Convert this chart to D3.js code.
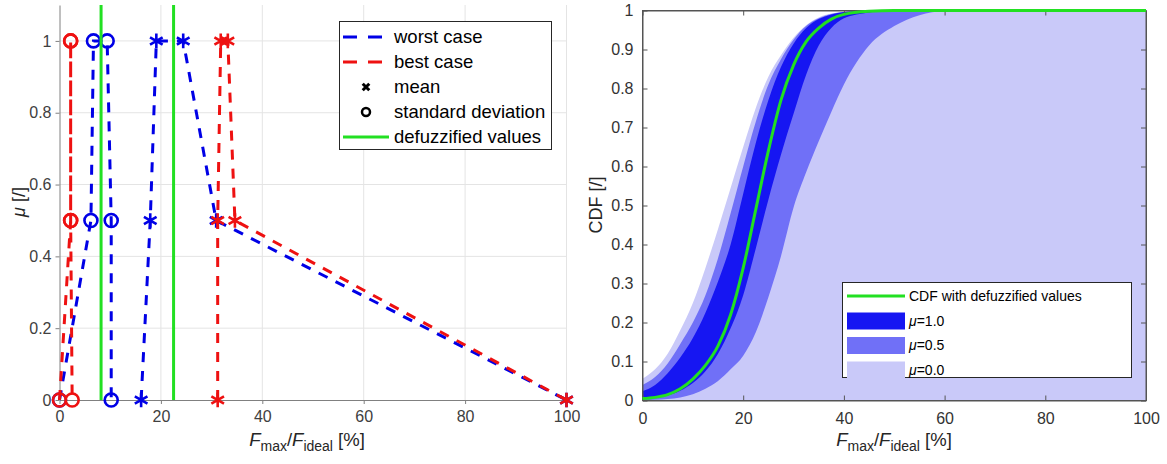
<!DOCTYPE html>
<html>
<head>
<meta charset="utf-8">
<script src="https://cdn.jsdelivr.net/npm/d3@7"></script>
<style>
  body { margin: 0; background: #fff; }
  svg { font-family: "Liberation Sans", Arial, sans-serif; }
</style>
</head>
<body>
<svg width="1167" height="464"></svg>
<script>
// ---- left chart: fuzzy numbers (membership levels and x positions)
const levels = [0, 0.5, 1, 1, 0.5, 0];
const worstMean = [16.1, 17.9, 19.1, 24.4, 30.9, 100];
const worstStd = [0, 6.2, 6.7, 9.4, 10.2, 10.2];
const bestMean = [31.2, 31.2, 31.8, 33.2, 34.6, 100];
const bestStd = [0, 2.2, 2.2, 2.2, 2.2, 2.5];
const defuzzified = [8.2, 22.5];
const leftXTicks = [0, 20, 40, 60, 80, 100];
const leftYTicks = [0, 0.2, 0.4, 0.6, 0.8, 1];

// ---- right chart: CDF envelopes
const cdfX   = [0, 2.5, 5, 7.5, 10, 12.5, 15, 17.5, 20, 22.5, 25, 27.5, 30, 32.5, 35, 37.5, 40, 45, 50, 55, 60, 70, 100];
const upper0 = [0.056, 0.08, 0.12, 0.18, 0.25, 0.34, 0.44, 0.545, 0.65, 0.75, 0.83, 0.885, 0.93, 0.962, 0.982, 0.992, 0.997, 1, 1, 1, 1, 1, 1];
const upper5 = [0.04, 0.06, 0.095, 0.145, 0.2, 0.27, 0.365, 0.48, 0.6, 0.715, 0.81, 0.875, 0.925, 0.96, 0.98, 0.991, 0.996, 1, 1, 1, 1, 1, 1];
const upper1 = [0.024, 0.04, 0.07, 0.11, 0.16, 0.225, 0.305, 0.4, 0.53, 0.66, 0.77, 0.855, 0.915, 0.955, 0.978, 0.99, 0.996, 1, 1, 1, 1, 1, 1];
const defCdf = [0.005, 0.008, 0.015, 0.03, 0.055, 0.09, 0.14, 0.22, 0.34, 0.49, 0.64, 0.77, 0.86, 0.92, 0.955, 0.978, 0.99, 0.998, 1, 1, 1, 1, 1];
const lower1 = [0.004, 0.007, 0.013, 0.025, 0.045, 0.075, 0.12, 0.185, 0.27, 0.39, 0.515, 0.63, 0.735, 0.835, 0.91, 0.955, 0.98, 0.995, 1, 1, 1, 1, 1];
const lower5 = [0.001, 0.002, 0.004, 0.008, 0.016, 0.03, 0.05, 0.08, 0.115, 0.175, 0.265, 0.37, 0.495, 0.585, 0.665, 0.74, 0.81, 0.91, 0.96, 0.988, 0.998, 1, 1];
const lower0 = cdfX.map(() => 0);
const rightXTicks = [0, 20, 40, 60, 80, 100];
const rightYTicks = d3.range(0, 11).map(i => i / 10);

const blue = "#0000e6", red = "#ee1111", green = "#22e022";
const c10 = "#1616f2", c05 = "#7070f7", c00 = "#c9c9f9";

const svg = d3.select("svg");

// ================= LEFT =================
const xL = d3.scaleLinear([0, 100], [59.5, 566.5]);
const yL = d3.scaleLinear([0, 1.1], [400, 5]);
const gL = svg.append("g");

// grid
gL.append("g").selectAll("line").data(leftXTicks.slice(1)).join("line")
  .attr("x1", d => xL(d)).attr("x2", d => xL(d)).attr("y1", yL(1.1)).attr("y2", yL(0))
  .attr("stroke", "#e4e4e4");
gL.append("g").selectAll("line").data(leftYTicks.slice(1)).join("line")
  .attr("x1", xL(0)).attr("x2", xL(100)).attr("y1", d => yL(d)).attr("y2", d => yL(d))
  .attr("stroke", "#e4e4e4");

const axL = gL.append("g").attr("transform", `translate(${xL(0)},0)`)
  .call(d3.axisLeft(yL).tickValues(leftYTicks).tickFormat(d3.format("~g")).tickSize(4).tickSizeOuter(0).tickPadding(4));
const axB = gL.append("g").attr("transform", `translate(0,${yL(0)})`)
  .call(d3.axisBottom(xL).tickValues(leftXTicks).tickSize(4).tickSizeOuter(0).tickPadding(4));
[axL, axB].forEach(a => {
  a.select(".domain").attr("stroke", "#808080");
  a.selectAll(".tick line").attr("stroke", "#808080");
  a.selectAll("text").attr("font-size", 16).attr("fill", "#404040");
});
axB.selectAll("text").attr("dy", "0.9em");

const fuzzyLine = d3.line().x(d => xL(d[0])).y(d => yL(d[1]));

function fuzzySeries(xs, color, marker) {
  const pts = xs.map((x, i) => [x, levels[i]]);
  gL.append("path").attr("d", fuzzyLine(pts)).attr("fill", "none")
    .attr("stroke", color).attr("stroke-width", 3).attr("stroke-dasharray", "10,9");
  if (marker === "o") {
    gL.append("g").selectAll("circle").data(pts).join("circle")
      .attr("cx", d => xL(d[0])).attr("cy", d => yL(d[1])).attr("r", 6.5)
      .attr("fill", "none").attr("stroke", color).attr("stroke-width", 2.6);
  } else {
    const sym = d3.symbol(d3.symbolAsterisk, 150);
    gL.append("g").selectAll("path").data(pts).join("path")
      .attr("transform", d => `translate(${xL(d[0])},${yL(d[1])})`)
      .attr("d", sym).attr("fill", "none").attr("stroke", color).attr("stroke-width", 2.6);
  }
}
fuzzySeries(worstMean, blue, "*");
fuzzySeries(worstStd, blue, "o");
fuzzySeries(bestMean, red, "*");
fuzzySeries(bestStd, red, "o");

gL.append("g").selectAll("line").data(defuzzified).join("line")
  .attr("x1", d => xL(d)).attr("x2", d => xL(d)).attr("y1", yL(1.1)).attr("y2", yL(0))
  .attr("stroke", green).attr("stroke-width", 3);

// legend (left)
const lg = gL.append("g");
lg.append("rect").attr("x", 339.5).attr("y", 21.5).attr("width", 212).attr("height", 128)
  .attr("fill", "#fff").attr("stroke", "#262626").attr("stroke-width", 1);
const leftItems = ["worst case", "best case", "mean", "standard deviation", "defuzzified values"];
leftItems.forEach((t, i) => {
  const cy = 37 + i * 25;
  lg.append("text").attr("x", 394).attr("y", cy).attr("dy", "0.35em")
    .attr("font-size", 18.5).attr("fill", "#000").text(t);
});
lg.append("line").attr("x1", 343).attr("x2", 382).attr("y1", 37).attr("y2", 37)
  .attr("stroke", blue).attr("stroke-width", 3).attr("stroke-dasharray", "14,11");
lg.append("line").attr("x1", 343).attr("x2", 382).attr("y1", 62).attr("y2", 62)
  .attr("stroke", red).attr("stroke-width", 3).attr("stroke-dasharray", "14,11");
lg.append("path").attr("transform", "translate(366,87)").attr("d", d3.symbol(d3.symbolTimes, 30))
  .attr("fill", "none").attr("stroke", "#000").attr("stroke-width", 3);
lg.append("circle").attr("cx", 366).attr("cy", 112).attr("r", 4)
  .attr("fill", "none").attr("stroke", "#000").attr("stroke-width", 2.5);
lg.append("line").attr("x1", 343).attr("x2", 389).attr("y1", 137).attr("y2", 137)
  .attr("stroke", green).attr("stroke-width", 3);

// axis labels (left)
function fLabel(g, cx, y) {
  const t = g.append("text").attr("x", cx).attr("y", y).attr("text-anchor", "middle")
    .attr("font-size", 18.5).attr("fill", "#262626");
  t.append("tspan").attr("font-style", "italic").text("F");
  t.append("tspan").attr("font-size", 14).attr("dy", 5).text("max");
  t.append("tspan").attr("dy", -5).text("/");
  t.append("tspan").attr("font-style", "italic").text("F");
  t.append("tspan").attr("font-size", 14).attr("dy", 5).text("ideal");
  t.append("tspan").attr("dy", -5).text(" [%]");
}
fLabel(gL, 307, 446);
const muLab = gL.append("text").attr("transform", "translate(25,202) rotate(-90)")
  .attr("text-anchor", "middle").attr("font-size", 18).attr("fill", "#262626");
muLab.append("tspan").attr("font-style", "italic").text("μ");
muLab.append("tspan").text(" [/]");

// ================= RIGHT =================
const xR = d3.scaleLinear([0, 100], [642.5, 1146]);
const yR = d3.scaleLinear([0, 1], [400.5, 10.5]);
const gR = svg.append("g");

const rows = cdfX.map((x, i) => ({ x, u0: upper0[i], u5: upper5[i], u1: upper1[i], g: defCdf[i], l1: lower1[i], l5: lower5[i], l0: lower0[i] }));
const band = (top, bot) => d3.area().x(d => xR(d.x)).y0(d => yR(d[bot])).y1(d => yR(d[top])).curve(d3.curveMonotoneX);

gR.append("path").datum(rows).attr("d", band("u0", "l0")).attr("fill", c00);
gR.append("path").datum(rows).attr("d", band("u5", "l5")).attr("fill", c05);
gR.append("path").datum(rows).attr("d", band("u1", "l1")).attr("fill", c10);

// frame + inside ticks
gR.append("rect").attr("x", xR(0)).attr("y", yR(1)).attr("width", xR(100) - xR(0)).attr("height", yR(0) - yR(1))
  .attr("fill", "none").attr("stroke", "#555").attr("stroke-width", 1);
const axRL = gR.append("g").attr("transform", `translate(${xR(0)},0)`)
  .call(d3.axisLeft(yR).tickValues(rightYTicks).tickFormat(d3.format("~g")).tickSize(-5).tickSizeOuter(0).tickPadding(9));
const axRB = gR.append("g").attr("transform", `translate(0,${yR(0)})`)
  .call(d3.axisBottom(xR).tickValues(rightXTicks).tickSize(-5).tickSizeOuter(0).tickPadding(9));
const axRR = gR.append("g").attr("transform", `translate(${xR(100)},0)`)
  .call(d3.axisRight(yR).tickValues(rightYTicks).tickFormat("").tickSize(-5).tickSizeOuter(0));
const axRT = gR.append("g").attr("transform", `translate(0,${yR(1)})`)
  .call(d3.axisTop(xR).tickValues(rightXTicks).tickFormat("").tickSize(-5).tickSizeOuter(0));
[axRL, axRB, axRR, axRT].forEach(a => {
  a.select(".domain").attr("stroke", "#555");
  a.selectAll(".tick line").attr("stroke", "#555");
  a.selectAll("text").attr("font-size", 16).attr("fill", "#333");
});
axRB.selectAll("text").attr("dy", "0.9em");

gR.append("path").datum(rows)
  .attr("d", d3.line().x(d => xR(d.x)).y(d => yR(d.g)).curve(d3.curveMonotoneX))
  .attr("fill", "none").attr("stroke", green).attr("stroke-width", 3);

// legend (right)
const rl = gR.append("g");
rl.append("rect").attr("x", 842.5).attr("y", 282.5).attr("width", 289).attr("height", 95)
  .attr("fill", "#fff").attr("stroke", "#262626").attr("stroke-width", 1);
rl.append("line").attr("x1", 847).attr("x2", 905).attr("y1", 296).attr("y2", 296)
  .attr("stroke", green).attr("stroke-width", 3);
rl.append("text").attr("x", 909).attr("y", 296).attr("dy", "0.35em").attr("font-size", 14).text("CDF with defuzzified values");
[["1.0", c10], ["0.5", c05], ["0.0", c00]].forEach(([lab, col], i) => {
  const cy = 321 + i * 24.5;
  rl.append("rect").attr("x", 847).attr("y", cy - 8.5).attr("width", 58).attr("height", 17).attr("fill", col);
  const t = rl.append("text").attr("x", 909).attr("y", cy).attr("dy", "0.35em").attr("font-size", 14);
  t.append("tspan").attr("font-style", "italic").text("μ");
  t.append("tspan").text("=" + lab);
});

fLabel(gR, 894, 446);
gR.append("text").attr("transform", "translate(602,205) rotate(-90)")
  .attr("text-anchor", "middle").attr("font-size", 18).attr("fill", "#262626").text("CDF [/]");
</script>
</body>
</html>
